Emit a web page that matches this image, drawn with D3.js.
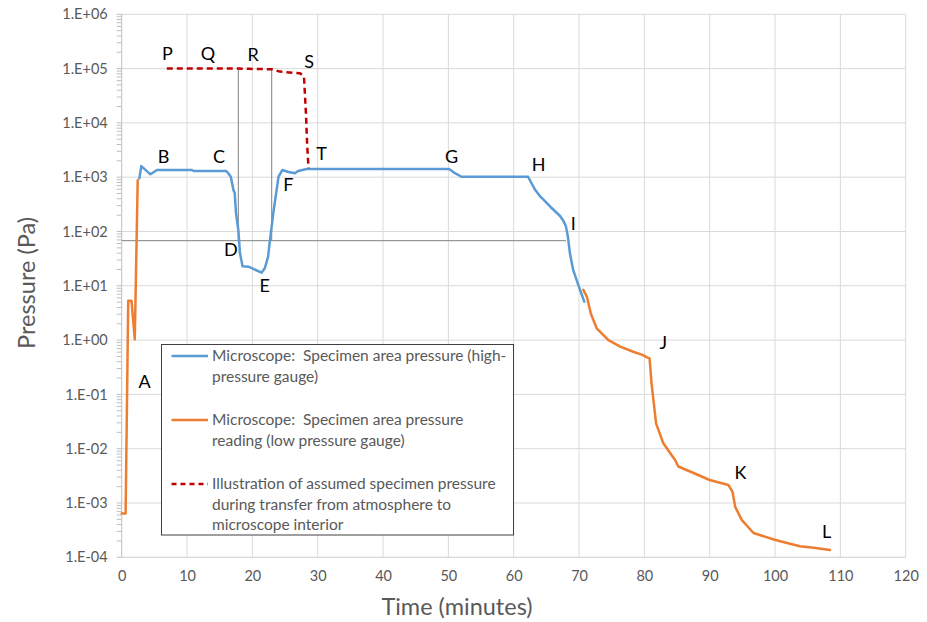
<!DOCTYPE html>
<html>
<head>
<meta charset="utf-8">
<script src="https://cdn.jsdelivr.net/npm/d3@7"></script>
<style>
  body { margin: 0; background: #fff; }
  text { font-family: Lato, "Open Sans", sans-serif; white-space: pre; }
</style>
</head>
<body>
<div id="chart"></div>
<script>
// high-pressure gauge (blue), [minutes, Pa]
const highGauge = [
  [2.7, 950], [3.0, 1600], [4.4, 1130], [5.4, 1360], [10.7, 1360], [11.0, 1300],
  [16.0, 1300], [16.3, 1180], [16.7, 1020], [17.1, 580], [17.3, 510], [17.5, 216],
  [17.85, 107], [18.1, 40], [18.5, 23], [19.4, 22.5], [21.4, 17.4], [21.9, 21],
  [22.4, 34], [22.7, 70], [23.2, 216], [24.0, 1020], [24.6, 1360], [25.4, 1260],
  [26.5, 1180], [27.0, 1300], [28.3, 1420], [50.1, 1420], [50.8, 1230], [52.0, 1020],
  [62.2, 1020], [63.3, 580], [64.1, 437], [65.6, 286], [67.1, 193], [67.6, 158],
  [68.0, 123], [68.3, 80], [68.6, 40], [69.1, 19.6], [69.9, 10.3], [70.8, 5.1]
];
// low-pressure gauge (orange), two pieces
const lowGaugeStart = [
  [0, 6.4e-4], [0.6, 6.4e-4], [1.0, 5.3], [1.5, 5.3], [2.0, 1.03], [2.45, 880]
];
const lowGaugeEnd = [
  [70.66, 8.4], [71.2, 6.3], [71.8, 3.1], [72.7, 1.65], [74.5, 1.0], [76.3, 0.76],
  [78.3, 0.61], [79.8, 0.53], [80.4, 0.48], [80.8, 0.46], [81.1, 0.16], [81.8, 0.029],
  [82.9, 0.0126], [84.7, 0.0062], [85.2, 0.0047], [87.0, 0.0038], [90.0, 0.00265],
  [92.85, 0.00215], [93.5, 0.0016], [93.9, 8.5e-4], [94.9, 4.9e-4], [96.7, 2.8e-4],
  [99.7, 2.15e-4], [100.8, 1.97e-4], [103.8, 1.6e-4], [105.9, 1.5e-4], [108.4, 1.36e-4]
];
// assumed specimen pressure during transfer (red dashed)
const assumed = [
  [6.9, 1e5], [17.85, 1e5], [19.6, 0.99e5], [23.0, 0.97e5], [24.2, 0.88e5],
  [27.3, 0.82e5], [27.9, 0.71e5], [28.2, 1.5e4], [28.4, 3650], [28.6, 1460]
];
// thin reference lines
const refLevel = 67.7;
const refEndTime = 68.0;
const refTimes = [17.85, 22.96];
const refTop = 1e5;

// point letters: [text, minutes, log10(Pa)]
const letters = [
  ["P", 7.0, 5.27], ["Q", 13.2, 5.28], ["R", 20.1, 5.26], ["S", 28.7, 5.13],
  ["B", 6.4, 3.39], ["C", 14.9, 3.39], ["D", 16.7, 1.66], ["E", 21.9, 1.0],
  ["F", 25.5, 2.86], ["T", 30.6, 3.43], ["G", 50.5, 3.39], ["H", 63.8, 3.23],
  ["I", 69.1, 2.14], ["A", 3.5, -0.77], ["J", 82.9, -0.05], ["K", 94.7, -2.44],
  ["L", 107.9, -3.53]
];

const xTicks = d3.range(0, 121, 10);
const yDecades = d3.range(-4, 7).map(e => Math.pow(10, e));

const legendItems = [
  { lines: ["Microscope:  Specimen area pressure (high-", "pressure gauge)"], color: "#5b9bd5", dash: null },
  { lines: ["Microscope:  Specimen area pressure", "reading (low pressure gauge)"], color: "#ed7d31", dash: null },
  { lines: ["Illustration of assumed specimen pressure", "during transfer from atmosphere to", "microscope interior"], color: "#c00000", dash: "5,4" }
];

const W = 927, H = 622;
const svg = d3.select("#chart").append("svg")
  .attr("width", W).attr("height", H);

const x = d3.scaleLinear().domain([0, 120]).range([121.7, 905.7]);
const y = d3.scaleLog().domain([1e-4, 1e6]).range([557.3, 14.3]);

// gridlines
svg.append("g").selectAll("line.gy")
  .data(yDecades).enter().append("line")
  .attr("x1", x(0)).attr("x2", x(120))
  .attr("y1", d => y(d)).attr("y2", d => y(d))
  .attr("stroke", "#d9d9d9").attr("stroke-width", 1);
svg.append("g").selectAll("line.gx")
  .data(xTicks.slice(1)).enter().append("line")
  .attr("x1", d => x(d)).attr("x2", d => x(d))
  .attr("y1", y(1e-4)).attr("y2", y(1e6))
  .attr("stroke", "#d9d9d9").attr("stroke-width", 1);

// minor log ticks on the y axis
const minor = [];
yDecades.slice(0, -1).forEach(d => { for (let k = 1; k <= 9; k++) minor.push(d * k); });
minor.push(1e6);
svg.append("g").selectAll("line")
  .data(minor).enter().append("line")
  .attr("x1", x(0) - 5).attr("x2", x(0))
  .attr("y1", d => y(d)).attr("y2", d => y(d))
  .attr("stroke", "#bfbfbf");

// axis lines
svg.append("line").attr("x1", x(0)).attr("x2", x(0)).attr("y1", y(1e6)).attr("y2", y(1e-4)).attr("stroke", "#bfbfbf");
svg.append("line").attr("x1", x(0)).attr("x2", x(120)).attr("y1", y(1e-4)).attr("y2", y(1e-4)).attr("stroke", "#d9d9d9");

// tick labels
const fmt = d => {
  const e = Math.round(Math.log10(d));
  return "1.E" + (e < 0 ? "-" : "+") + String(Math.abs(e)).padStart(2, "0");
};
const yAxis = d3.axisLeft(y).tickValues(yDecades).tickFormat(fmt).tickSize(0).tickPadding(14);
svg.append("g").attr("transform", `translate(${x(0)},0)`).call(yAxis)
  .call(g => g.select(".domain").remove())
  .selectAll("text").attr("fill", "#595959").style("font-size", "14.5px").style("font-family", "Lato");
const xAxis = d3.axisBottom(x).tickValues(xTicks).tickSize(0).tickPadding(13);
svg.append("g").attr("transform", `translate(0,${y(1e-4)})`).call(xAxis)
  .call(g => g.select(".domain").remove())
  .selectAll("text").attr("fill", "#595959").style("font-size", "14.5px").style("font-family", "Lato");

// axis titles
svg.append("text").attr("x", 457).attr("y", 615).attr("text-anchor", "middle")
  .attr("fill", "#595959").style("font-size", "23.5px").text("Time (minutes)");
svg.append("text").attr("transform", "translate(35,283) rotate(-90)").attr("text-anchor", "middle")
  .attr("fill", "#595959").style("font-size", "23.5px").text("Pressure (Pa)");

// thin reference lines
svg.append("line").attr("x1", x(0)).attr("x2", x(refEndTime))
  .attr("y1", y(refLevel)).attr("y2", y(refLevel)).attr("stroke", "#7f7f7f").attr("stroke-width", 1);
svg.append("g").selectAll("line").data(refTimes).enter().append("line")
  .attr("x1", d => x(d)).attr("x2", d => x(d))
  .attr("y1", y(refTop)).attr("y2", y(refLevel))
  .attr("stroke", "#7f7f7f").attr("stroke-width", 1);

// series
const line = d3.line().x(d => x(d[0])).y(d => y(d[1]));
const drawSeries = (data, color, dash) => svg.append("path")
  .attr("d", line(data)).attr("fill", "none")
  .attr("stroke", color).attr("stroke-width", 2.5)
  .attr("stroke-linejoin", "round").attr("stroke-linecap", dash ? "butt" : "round")
  .attr("stroke-dasharray", dash);
drawSeries(lowGaugeStart, "#ed7d31", null);
drawSeries(lowGaugeEnd, "#ed7d31", null);
drawSeries(highGauge, "#5b9bd5", null);
drawSeries(assumed, "#c00000", "6,4");

// letters
svg.append("g").selectAll("text").data(letters).enter().append("text")
  .attr("x", d => x(d[1])).attr("y", d => y(Math.pow(10, d[2])))
  .attr("dy", "0.36em").attr("text-anchor", "middle")
  .style("font-size", "18px").attr("fill", "#000").text(d => d[0]);

// legend
const legend = svg.append("g");
legend.append("rect").attr("x", 161.5).attr("y", 344.5).attr("width", 352).attr("height", 190.5)
  .attr("fill", "#fff").attr("stroke", "#404040").attr("stroke-width", 1);
const rowY = [356, 420, 484];
legendItems.forEach((item, i) => {
  legend.append("line").attr("x1", 171.5).attr("x2", 208)
    .attr("y1", rowY[i]).attr("y2", rowY[i])
    .attr("stroke", item.color).attr("stroke-width", 2.5)
    .attr("stroke-dasharray", item.dash);
  item.lines.forEach((t, j) => {
    legend.append("text").attr("x", 212).attr("y", rowY[i] + j * 20.3).attr("dy", "0.35em")
      .attr("fill", "#595959").style("font-size", "15.5px").text(t);
  });
});
</script>
</body>
</html>
